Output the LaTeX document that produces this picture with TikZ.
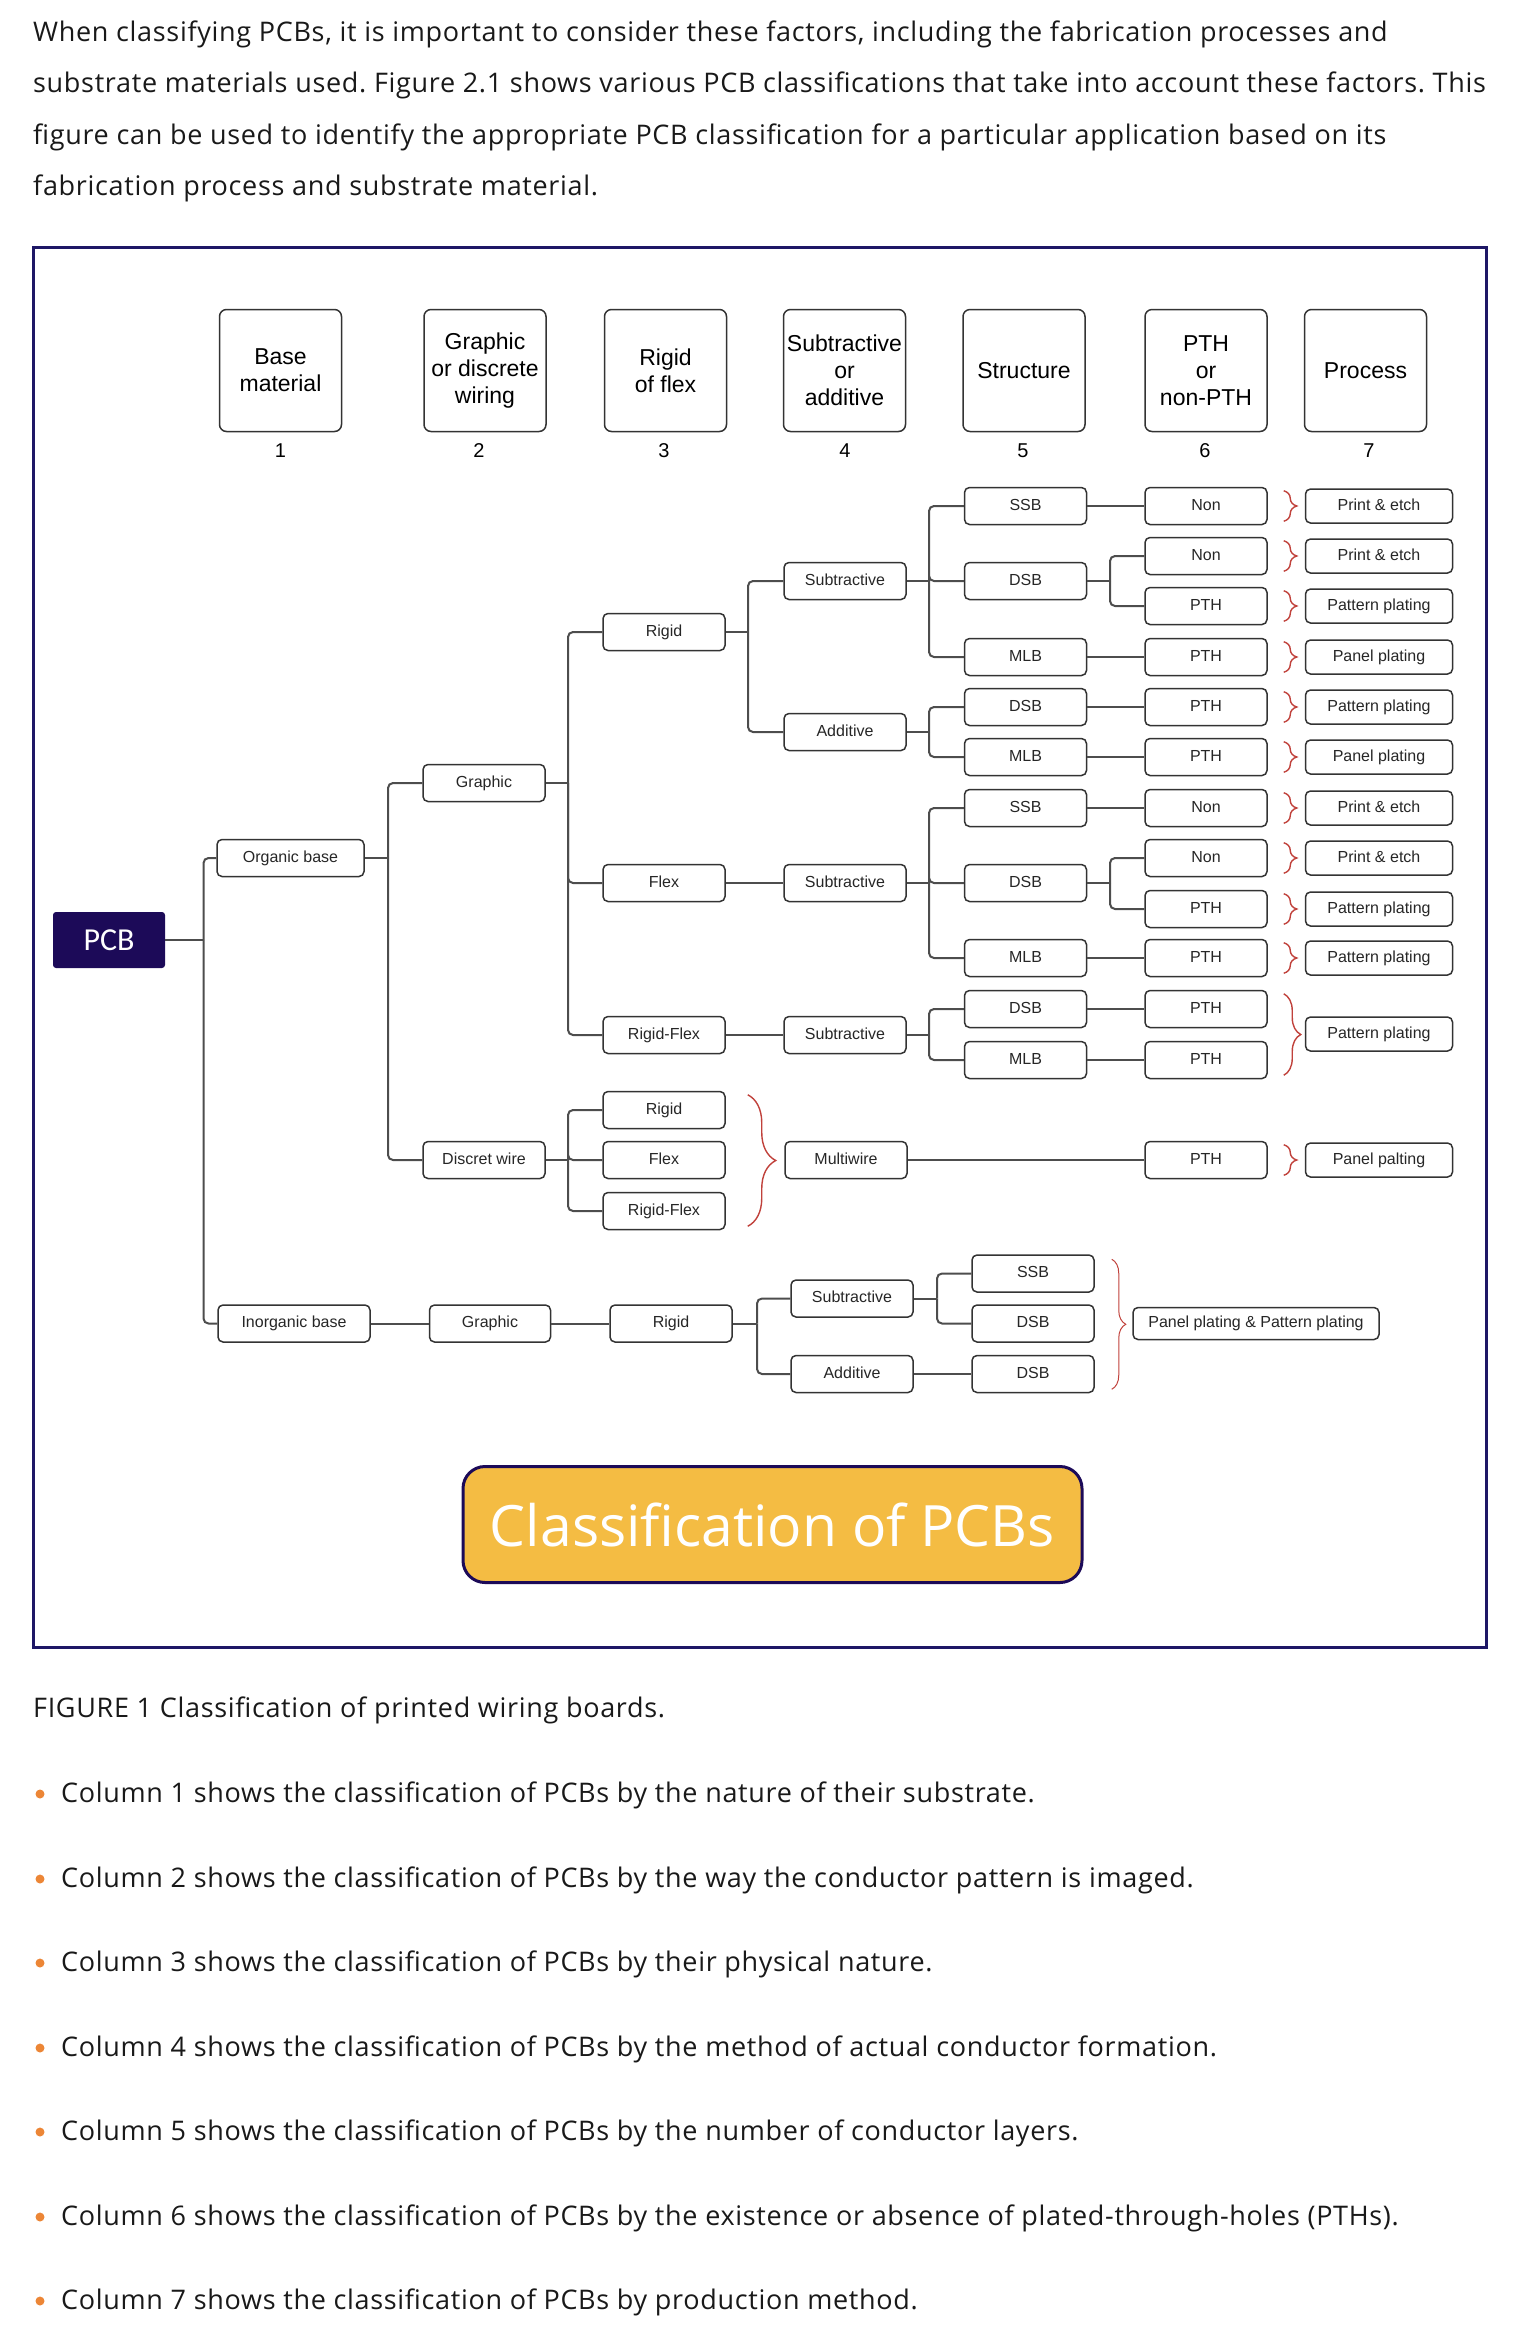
\documentclass[tikz,border=0pt]{standalone}
\usepackage{fontspec}
\setmainfont{Liberation Sans}
\newfontfamily\titlefont{Open Sans}
\newfontfamily\bodyfont[LetterSpace=2.5]{Open Sans}
\newfontfamily\pcbfont{Carlito}
\usetikzlibrary{decorations.pathreplacing}
\frenchspacing

\definecolor{navy}{HTML}{1C0A58}
\definecolor{framec}{HTML}{1E1766}
\definecolor{lin}{HTML}{4D4D4D}
\definecolor{bord}{HTML}{333333}
\definecolor{brc}{HTML}{C0413B}
\definecolor{gold}{HTML}{F4BC43}
\definecolor{bul}{HTML}{EC8636}

\begin{document}
\begin{tikzpicture}[x=1pt,y=-1pt,
  head/.style={draw=bord, line width=1.5pt, rounded corners=7pt, minimum width=122pt, minimum height=122pt, align=center, inner sep=1pt, font=\fontsize{23}{27}\selectfont},
  num/.style={inner sep=0pt, font=\fontsize{20}{24}\selectfont},
  cell/.style={draw=bord, line width=1.5pt, rounded corners=5pt, minimum width=122pt, minimum height=37pt, inner sep=2pt, font=\fontsize{16}{19}\selectfont, text height=11.5pt, text depth=3.5pt, text=black!85},
  proc/.style={cell, minimum width=147pt, minimum height=34pt},
  conn/.style={draw=lin, line width=2pt},
  br/.style={conn, rounded corners=5pt},
  rbrace/.style={draw=brc, line width=1.4pt, decorate, decoration={brace, amplitude=#1}},
  rbrace/.default=13pt,
  ptext/.style={anchor=base west, inner sep=0pt, font=\bodyfont\fontsize{27}{31}\selectfont, text=black!90},
  bulletdot/.style={circle, fill=bul, minimum size=9pt, inner sep=0pt},
]
\useasboundingbox (0,0) rectangle (1528,2346);

% intro paragraph
\node[ptext] (l1) at (33,41) {When classifying PCBs, it is important to consider these factors, including the fabrication processes and};
\node[ptext] (l2) at (33,92.5) {substrate materials used. Figure 2.1 shows various PCB classifications that take into account these factors. This};
\node[ptext] (l3) at (33,144) {figure can be used to identify the appropriate PCB classification for a particular application based on its};
\node[ptext] (l4) at (33,195.5) {fabrication process and substrate material.};

% frame
\draw[framec, line width=3pt] (33,247) rectangle (1486,1647);

% headers
\node[head] (h1) at (280.5,370.5) {Base\\material};
\node[head] (h2) at (485,370.5) {Graphic\\or discrete\\wiring};
\node[head] (h3) at (665.5,370.5) {Rigid\\of flex};
\node[head] (h4) at (844.5,370.5) {Subtractive\\or\\additive};
\node[head] (h5) at (1024,370.5) {Structure};
\node[head] (h6) at (1206,370.5) {PTH\\or\\non-PTH};
\node[head] (h7) at (1365.5,370.5) {Process};
\node[num] (n1) at (280.5,451) {1};
\node[num] (n2) at (479,451) {2};
\node[num] (n3) at (664,451) {3};
\node[num] (n4) at (845,451) {4};
\node[num] (n5) at (1023,451) {5};
\node[num] (n6) at (1205,451) {6};
\node[num] (n7) at (1369,451) {7};

% PCB root
\node[fill=navy, rounded corners=3pt, minimum width=112pt, minimum height=56pt, text=white, font=\pcbfont\fontsize{32}{36}\selectfont] (pcb) at (109,940) {PCB};

% column 1
\node[cell, minimum width=147pt] (org) at (290.5,858) {Organic base};
\node[cell, minimum width=152pt] (inorg) at (294,1323.5) {Inorganic base};

% column 2
\node[cell] (gr) at (484,783) {Graphic};
\node[cell] (dw) at (484,1160) {Discret wire};
\node[cell, minimum width=121pt] (gr2) at (490,1323.5) {Graphic};

% column 3
\node[cell] (rig1) at (664,632) {Rigid};
\node[cell] (flex) at (664,883) {Flex};
\node[cell] (rf) at (664,1035) {Rigid-Flex};
\node[cell] (rig2) at (664,1110) {Rigid};
\node[cell] (flex2) at (664,1160) {Flex};
\node[cell] (rf2) at (664,1211) {Rigid-Flex};
\node[cell] (rig3) at (671,1323.5) {Rigid};

% column 4
\node[cell] (sub1) at (845,581) {Subtractive};
\node[cell] (add1) at (845,732) {Additive};
\node[cell] (sub2) at (845,883) {Subtractive};
\node[cell] (sub3) at (845,1035) {Subtractive};
\node[cell] (mw) at (846,1160) {Multiwire};
\node[cell] (sub4) at (852,1298.5) {Subtractive};
\node[cell] (add2) at (852,1374) {Additive};

% column 5
\node[cell] (s1) at (1025.5,506) {SSB};
\node[cell] (d1) at (1025.5,581) {DSB};
\node[cell] (m1) at (1025.5,657) {MLB};
\node[cell] (d2) at (1025.5,707) {DSB};
\node[cell] (m2) at (1025.5,757) {MLB};
\node[cell] (s2) at (1025.5,808) {SSB};
\node[cell] (d3) at (1025.5,883) {DSB};
\node[cell] (m3) at (1025.5,958) {MLB};
\node[cell] (d4) at (1025.5,1009) {DSB};
\node[cell] (m4) at (1025.5,1060) {MLB};
\node[cell] (s3) at (1033,1273.5) {SSB};
\node[cell] (d5) at (1033,1323.5) {DSB};
\node[cell] (d6) at (1033,1374) {DSB};

% column 6
\node[cell] (p1) at (1206,506) {Non};
\node[cell] (p2) at (1206,556) {Non};
\node[cell] (p3) at (1206,606) {PTH};
\node[cell] (p4) at (1206,657) {PTH};
\node[cell] (p5) at (1206,707) {PTH};
\node[cell] (p6) at (1206,757) {PTH};
\node[cell] (p7) at (1206,808) {Non};
\node[cell] (p8) at (1206,858) {Non};
\node[cell] (p9) at (1206,909) {PTH};
\node[cell] (p10) at (1206,958) {PTH};
\node[cell] (p11) at (1206,1009) {PTH};
\node[cell] (p12) at (1206,1060) {PTH};
\node[cell] (p13) at (1206,1160) {PTH};

% column 7
\node[proc] (r1) at (1379,506) {Print \& etch};
\node[proc] (r2) at (1379,556) {Print \& etch};
\node[proc] (r3) at (1379,606) {Pattern plating};
\node[proc] (r4) at (1379,657) {Panel plating};
\node[proc] (r5) at (1379,707) {Pattern plating};
\node[proc] (r6) at (1379,757) {Panel plating};
\node[proc] (r7) at (1379,808) {Print \& etch};
\node[proc] (r8) at (1379,858) {Print \& etch};
\node[proc] (r9) at (1379,909) {Pattern plating};
\node[proc] (r10) at (1379,958) {Pattern plating};
\node[proc] (r11) at (1379,1034) {Pattern plating};
\node[proc] (r12) at (1379,1160) {Panel palting};
\node[proc, minimum width=246pt, minimum height=32pt] (r13) at (1256,1323.5) {Panel plating \& Pattern plating};

% branch points
\coordinate (t0) at (203.5,940);
\coordinate (t1) at (388,858);
\coordinate (t2) at (568,783);
\coordinate (t3) at (748,632);
\coordinate (t4) at (929,581);
\coordinate (t5) at (1110,581);
\coordinate (t6) at (929,732);
\coordinate (t7) at (929,883);
\coordinate (t8) at (1110,883);
\coordinate (t9) at (929,1035);
\coordinate (t10) at (568,1160);
\coordinate (t11) at (757,1323.5);
\coordinate (t12) at (937,1298.5);

% connectors
\draw[conn] (pcb.east) -- (t0);
\draw[br] (t0) |- (org.west);
\draw[br] (t0) |- (inorg.west);

\draw[conn] (org.east) -- (t1);
\draw[br] (t1) |- (gr.west);
\draw[br] (t1) |- (dw.west);

\draw[conn] (gr.east) -- (t2);
\draw[br] (t2) |- (rig1.west);
\draw[br] (t2) |- (flex.west);
\draw[br] (t2) |- (rf.west);

\draw[conn] (rig1.east) -- (t3);
\draw[br] (t3) |- (sub1.west);
\draw[br] (t3) |- (add1.west);

\draw[conn] (sub1.east) -- (t4);
\draw[br] (t4) |- (s1.west);
\draw[br] (t4) |- (d1.west);
\draw[br] (t4) |- (m1.west);

\draw[conn] (d1.east) -- (t5);
\draw[br] (t5) |- (p2.west);
\draw[br] (t5) |- (p3.west);

\draw[conn] (s1) -- (p1);
\draw[conn] (m1) -- (p4);

\draw[conn] (add1.east) -- (t6);
\draw[br] (t6) |- (d2.west);
\draw[br] (t6) |- (m2.west);
\draw[conn] (d2) -- (p5);
\draw[conn] (m2) -- (p6);

\draw[conn] (flex) -- (sub2);
\draw[conn] (sub2.east) -- (t7);
\draw[br] (t7) |- (s2.west);
\draw[br] (t7) |- (d3.west);
\draw[br] (t7) |- (m3.west);
\draw[conn] (s2) -- (p7);
\draw[conn] (m3) -- (p10);
\draw[conn] (d3.east) -- (t8);
\draw[br] (t8) |- (p8.west);
\draw[br] (t8) |- (p9.west);

\draw[conn] (rf) -- (sub3);
\draw[conn] (sub3.east) -- (t9);
\draw[br] (t9) |- (d4.west);
\draw[br] (t9) |- (m4.west);
\draw[conn] (d4) -- (p11);
\draw[conn] (m4) -- (p12);

\draw[conn] (dw.east) -- (t10);
\draw[br] (t10) |- (rig2.west);
\draw[br] (t10) |- (flex2.west);
\draw[br] (t10) |- (rf2.west);
\draw[conn] (mw) -- (p13);

\draw[conn] (inorg) -- (gr2);
\draw[conn] (gr2) -- (rig3);
\draw[conn] (rig3.east) -- (t11);
\draw[br] (t11) |- (sub4.west);
\draw[br] (t11) |- (add2.west);
\draw[conn] (sub4.east) -- (t12);
\draw[br] (t12) |- (s3.west);
\draw[br] (t12) |- (d5.west);
\draw[conn] (add2) -- (d6);

% braces
\foreach \p in {p1,p2,p3,p4,p5,p6,p7,p8,p9,p10,p13}{
  \draw[rbrace] ([shift={(16pt,-4pt)}]\p.north east) -- ([shift={(16pt,4pt)}]\p.south east);
}
\draw[rbrace=17pt] ([shift={(16pt,-4pt)}]p11.north east) -- ([shift={(16pt,4pt)}]p12.south east);
\draw[rbrace=28pt] ([shift={(22pt,-4pt)}]rig2.north east) -- ([shift={(22pt,4pt)}]rf2.south east);
\draw[rbrace=14pt, line width=1pt] ([shift={(17pt,-5pt)}]s3.north east) -- ([shift={(17pt,4pt)}]d6.south east);

% title
\node[fill=gold, draw=navy, line width=3pt, rounded corners=22pt, minimum width=619pt, minimum height=116pt, text=white, font=\titlefont\fontsize{57}{60}\selectfont] (title) at (772.5,1524.5) {Classification of PCBs};

% caption and bullets
\node[ptext] (cap) at (33,1717) {FIGURE 1 Classification of printed wiring boards.};
\foreach \i/\yy/\t in {
  1/1802/{Column 1 shows the classification of PCBs by the nature of their substrate.},
  2/1887/{Column 2 shows the classification of PCBs by the way the conductor pattern is imaged.},
  3/1971/{Column 3 shows the classification of PCBs by their physical nature.},
  4/2056/{Column 4 shows the classification of PCBs by the method of actual conductor formation.},
  5/2140/{Column 5 shows the classification of PCBs by the number of conductor layers.},
  6/2225/{Column 6 shows the classification of PCBs by the existence or absence of plated-through-holes (PTHs).},
  7/2309/{Column 7 shows the classification of PCBs by production method.}}{
  \node[bulletdot] (b\i) at (40,\yy-8) {};
  \node[ptext] (bt\i) at (61,\yy) {\t};
}
\end{tikzpicture}
\end{document}
